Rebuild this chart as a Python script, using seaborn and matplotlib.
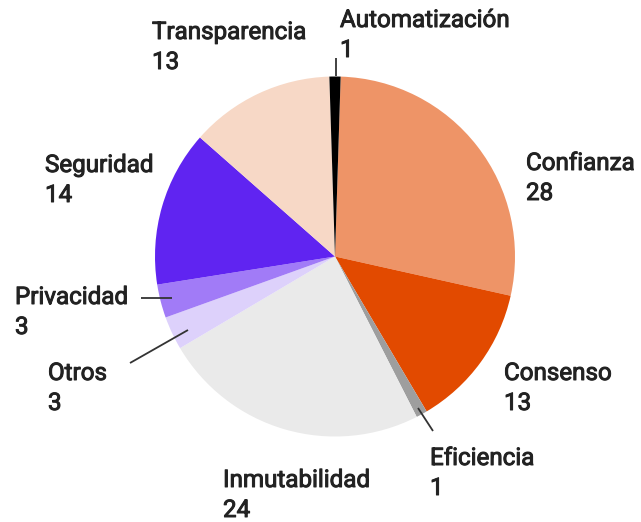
import matplotlib
matplotlib.use("Agg")
import matplotlib.pyplot as plt
import matplotlib.patheffects as pe
import seaborn as sns

categories = ["Confianza", "Consenso", "Eficiencia", "Inmutabilidad", "Otros",
              "Privacidad", "Seguridad", "Transparencia", "Automatización"]
values = [28, 13, 1, 24, 3, 3, 14, 13, 1]
colors = ["#EE9467", "#E24A00", "#9E9E9E", "#EAEAEA", "#DDD1FB",
          "#A17BF7", "#6024F1", "#F7D8C6", "#000000"]

# label anchors in pixel coords: (left x, baseline y of the name line)
label_pos = {
    "Confianza": (526, 170),
    "Consenso": (504, 380),
    "Eficiencia": (430, 465),
    "Inmutabilidad": (223, 487),
    "Otros": (48, 380),
    "Privacidad": (15, 304),
    "Seguridad": (45, 172),
    "Transparencia": (152, 39),
    "Automatización": (340, 27),
}
leaders = {
    "Automatización": ((336, 58), (336, 76)),
    "Privacidad": ((141, 298), (172, 298)),
    "Otros": ((130, 363), (188, 330)),
    "Eficiencia": ((418, 408), (433, 431)),
}

sns.set_theme(style="white")
plt.rcParams["font.family"] = ["Roboto", "DejaVu Sans"]

W, H = 641, 522
fig = plt.figure(figsize=(W / 100, H / 100), dpi=100)
ax = fig.add_axes([0, 0, 1, 1])

ax.pie(values, colors=colors, startangle=88.2, counterclock=False,
       center=(335, H - 256.5), radius=180, frame=True,
       wedgeprops=dict(linewidth=0))
ax.set_xlim(0, W)
ax.set_ylim(0, H)
ax.set_aspect("equal")
ax.axis("off")

txt_color = "#222222"
effects = [pe.withStroke(linewidth=0.7, foreground=txt_color)]
for cat, v in zip(categories, values):
    x, y = label_pos[cat]
    for s, yy in ((cat, y), (str(v), y + 30)):
        ax.text(x, H - yy, s, ha="left", va="baseline", fontsize=17.4,
                color=txt_color, path_effects=effects)

for cat, ((x1, y1), (x2, y2)) in leaders.items():
    ax.plot([x1, x2], [H - y1, H - y2], color="#333333", lw=1.3,
            solid_capstyle="butt")

fig.savefig("out.png", dpi=100)
